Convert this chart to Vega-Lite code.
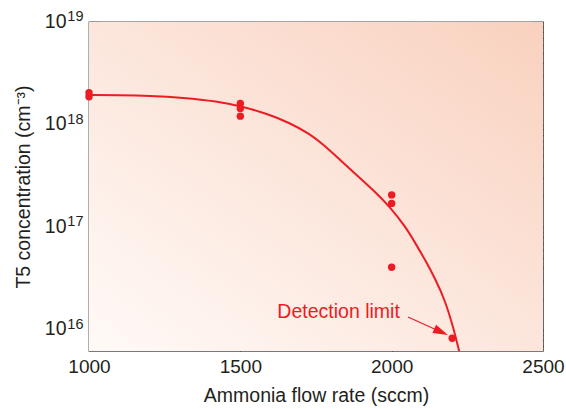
{
  "$schema": "https://vega.github.io/schema/vega-lite/v6.json",
  "autosize": "none",
  "width": 454,
  "height": 329,
  "padding": {"left": 89, "top": 22, "right": 23, "bottom": 58},
  "background": "white",
  "config": {
    "view": {"stroke": "#4d4d4d", "strokeWidth": 1.3},
    "font": "Liberation Sans",
    "axis": {
      "domain": false,
      "grid": false,
      "tickColor": "#333333",
      "tickWidth": 1.2,
      "labelFont": "Liberation Sans",
      "labelColor": "#231f20",
      "labelFontSize": 19,
      "labelFlush": false,
      "labelOverlap": false,
      "titleFont": "Liberation Sans",
      "titleFontWeight": "normal",
      "titleColor": "#231f20",
      "titleFontSize": 19.5
    }
  },
  "datasets": {
    "measured": [
      {"flow": 1000, "conc": 2.05e18},
      {"flow": 1000, "conc": 1.87e18},
      {"flow": 1500, "conc": 1.61e18},
      {"flow": 1500, "conc": 1.44e18},
      {"flow": 1500, "conc": 1.21e18},
      {"flow": 2000, "conc": 2.07e17},
      {"flow": 2000, "conc": 1.71e17},
      {"flow": 2000, "conc": 4.08e16},
      {"flow": 2200, "conc": 8.3e15}
    ],
    "fit": [
      {"flow": 1000, "conc": 1.945e18},
      {"flow": 1100, "conc": 1.94e18},
      {"flow": 1201, "conc": 1.915e18},
      {"flow": 1312, "conc": 1.83e18},
      {"flow": 1422, "conc": 1.69e18},
      {"flow": 1510, "conc": 1.49e18},
      {"flow": 1587, "conc": 1.28e18},
      {"flow": 1664, "conc": 1.04e18},
      {"flow": 1730, "conc": 8.1e17},
      {"flow": 1774, "conc": 6.4e17},
      {"flow": 1829, "conc": 4.55e17},
      {"flow": 1884, "conc": 3.24e17},
      {"flow": 1939, "conc": 2.31e17},
      {"flow": 1994, "conc": 1.59e17},
      {"flow": 2047, "conc": 1.0e17},
      {"flow": 2077, "conc": 7.1e16},
      {"flow": 2110, "conc": 4.85e16},
      {"flow": 2143, "conc": 3.19e16},
      {"flow": 2176, "conc": 1.96e16},
      {"flow": 2204, "conc": 1.05e16},
      {"flow": 2223, "conc": 6.2e15},
      {"flow": 2231, "conc": 5.1e15}
    ],
    "pointer": [
      {"flow": 2054, "conc": 1.34e16, "flow_end": 2176, "conc_end": 9.2e15}
    ],
    "pointerHead": [
      {"flow": 2186, "conc": 8.93e15}
    ],
    "note": [
      {"flow": 2027, "conc": 1.5e16, "text": "Detection limit"}
    ]
  },
  "resolve": {"axis": {"x": "independent", "y": "independent"}},
  "layer": [
    {
      "data": {"values": [{}]},
      "mark": {
        "type": "rect",
        "color": {
          "gradient": "linear",
          "x1": 0, "y1": 1, "x2": 1, "y2": 0,
          "stops": [
            {"offset": 0, "color": "#fffaf7"},
            {"offset": 0.5, "color": "#fce6dc"},
            {"offset": 1, "color": "#f9d1be"}
          ]
        }
      },
      "encoding": {
        "x": {
          "datum": 1000, "type": "quantitative",
          "scale": {"domain": [1000, 2500], "nice": false, "zero": false},
          "axis": {
            "orient": "bottom",
            "values": [1000, 1500, 2000, 2500],
            "format": "d",
            "ticks": false,
            "labelPadding": 6,
            "title": "Ammonia flow rate (sccm)",
            "titlePadding": 10
          }
        },
        "x2": {"datum": 2500},
        "y": {
          "datum": 6.24e15, "type": "quantitative",
          "scale": {"type": "log", "domain": [6.24e15, 1e19], "nice": false},
          "axis": {
            "orient": "left",
            "values": [1e16, 1e17, 1e18, 1e19],
            "ticks": false,
            "labelPadding": 23,
            "labelFontSize": 19.5,
            "labelOffset": -1,
            "labelExpr": "'10'",
            "title": "T5 concentration (cm⁻³)",
            "titlePadding": 11
          }
        },
        "y2": {"datum": 1e19}
      }
    },
    {
      "data": {"name": "fit"},
      "mark": {"type": "line", "color": "#ec1c24", "strokeWidth": 2, "interpolate": "basis", "clip": true},
      "encoding": {
        "x": {
          "field": "flow", "type": "quantitative",
          "axis": {"orient": "top", "values": [1500, 2000], "labels": false, "tickSize": -8, "title": null}
        },
        "y": {
          "field": "conc", "type": "quantitative",
          "axis": {
            "orient": "left",
            "values": [7e15, 8e15, 9e15, 2e16, 3e16, 4e16, 5e16, 6e16, 7e16, 8e16, 9e16, 2e17, 3e17, 4e17, 5e17, 6e17, 7e17, 8e17, 9e17, 2e18, 3e18, 4e18, 5e18, 6e18, 7e18, 8e18, 9e18],
            "labels": false, "tickSize": -7, "title": null
          }
        }
      }
    },
    {
      "data": {"name": "measured"},
      "mark": {"type": "circle", "color": "#ec1c24", "opacity": 1, "size": 55},
      "encoding": {
        "x": {
          "field": "flow", "type": "quantitative",
          "axis": {"orient": "bottom", "values": [1500, 2000], "labels": false, "tickSize": -8, "title": null}
        },
        "y": {
          "field": "conc", "type": "quantitative",
          "axis": {"orient": "right", "values": [1e16, 1e17, 1e18, 1e19], "labels": false, "tickSize": -10, "title": null}
        }
      }
    },
    {
      "data": {"name": "pointer"},
      "mark": {"type": "rule", "color": "#ec1c24", "strokeWidth": 1.2},
      "encoding": {
        "x": {"field": "flow", "type": "quantitative", "axis": null},
        "y": {
          "field": "conc", "type": "quantitative",
          "axis": {
            "orient": "right",
            "values": [7e15, 8e15, 9e15, 2e16, 3e16, 4e16, 5e16, 6e16, 7e16, 8e16, 9e16, 2e17, 3e17, 4e17, 5e17, 6e17, 7e17, 8e17, 9e17, 2e18, 3e18, 4e18, 5e18, 6e18, 7e18, 8e18, 9e18],
            "labels": false, "tickSize": -7, "title": null
          }
        },
        "x2": {"field": "flow_end"},
        "y2": {"field": "conc_end"}
      }
    },
    {
      "data": {"name": "pointerHead"},
      "mark": {"type": "point", "shape": "M0,0 L-3,-0.9 L-3,0.9 Z", "filled": true, "color": "#ec1c24", "opacity": 1, "size": 100, "angle": 24},
      "encoding": {
        "x": {"field": "flow", "type": "quantitative", "axis": null},
        "y": {
          "field": "conc", "type": "quantitative",
          "axis": {"orient": "left", "values": [1e16, 1e17, 1e18, 1e19], "labels": false, "tickSize": -10, "title": null}
        }
      }
    },
    {
      "data": {"name": "note"},
      "mark": {"type": "text", "color": "#ec1c24", "fontSize": 19.5, "align": "right", "baseline": "middle", "font": "Liberation Sans"},
      "encoding": {
        "x": {"field": "flow", "type": "quantitative", "axis": null},
        "y": {
          "field": "conc", "type": "quantitative",
          "axis": {
            "orient": "left",
            "values": [1e16, 1e17, 1e18, 1e19],
            "ticks": false,
            "labelPadding": 6,
            "labelFontSize": 14.5,
            "labelOffset": -5.5,
            "labelExpr": "datum.value > 5e18 ? '19' : datum.value > 5e17 ? '18' : datum.value > 5e16 ? '17' : '16'",
            "title": null
          }
        },
        "text": {"field": "text"}
      }
    }
  ]
}
